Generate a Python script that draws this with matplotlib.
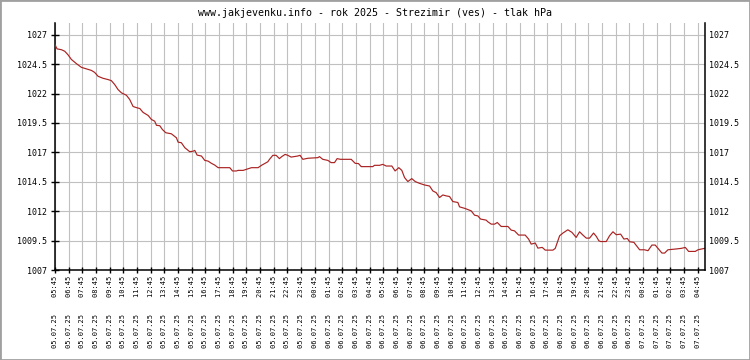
import matplotlib
matplotlib.use("Agg")
import matplotlib.pyplot as plt
import matplotlib.dates as mdates
from matplotlib.patches import Rectangle
from datetime import datetime, timedelta

title = "www.jakjevenku.info - rok 2025 - Strezimir (ves) - tlak hPa"
start_time = datetime(2025, 7, 5, 5, 45)
end_hours = 47.53

# hours since 05.07.25 05:45
hours = [0.00, 0.15, 0.47, 0.71, 0.95, 1.20, 1.56, 1.93, 2.29, 2.66, 2.90, 3.15, 3.51, 3.88,
         4.12, 4.37, 4.61, 4.86, 5.22, 5.46, 5.71, 6.00, 6.20, 6.44, 6.81, 7.05, 7.29, 7.42,
         7.66, 7.85, 8.10, 8.51, 8.88, 9.00, 9.24, 9.49, 9.85, 10.10, 10.22, 10.39, 10.71,
         10.95, 11.19, 11.44, 11.68, 11.93, 12.78, 12.98, 13.27, 13.39, 13.76, 14.00, 14.37,
         14.85, 15.10, 15.46, 15.56, 15.68, 15.93, 16.17, 16.41, 16.58, 16.83, 17.02, 17.27,
         17.75, 17.92, 18.12, 18.49, 19.22, 19.34, 19.58, 19.95, 20.19, 20.44, 20.63, 20.88,
         21.66, 21.95, 22.19, 22.39, 23.24, 23.36, 23.73, 23.97, 24.22, 24.63, 24.87, 25.14,
         25.36, 25.56, 25.80, 26.09, 26.34, 26.65, 27.02, 27.39, 27.63, 27.87, 28.12, 28.36,
         28.61, 28.85, 29.09, 29.46, 29.58, 29.99, 30.43, 30.68, 30.92, 31.12, 31.53, 31.65,
         31.90, 32.15, 32.34, 32.63, 33.12, 33.36, 33.60, 33.90, 34.38, 34.63, 34.82, 35.12,
         35.31, 35.63, 35.85, 36.41, 36.58, 36.90, 37.14, 37.50, 37.80, 38.11, 38.36, 38.60,
         38.85, 39.09, 39.38, 39.58, 39.77, 39.90, 40.31, 40.55, 40.80, 41.04, 41.36, 41.60,
         41.85, 42.02, 42.33, 42.75, 43.11, 43.36, 43.65, 43.89, 44.09, 44.38, 44.58, 44.82,
         45.36, 45.80, 46.09, 46.33, 46.82, 47.02, 47.26, 47.50]

pressure = [1026.15, 1025.80, 1025.73, 1025.60, 1025.30, 1024.90, 1024.55, 1024.23, 1024.10,
            1023.97, 1023.80, 1023.47, 1023.30, 1023.19, 1023.10, 1022.76, 1022.34, 1022.06,
            1021.86, 1021.50, 1020.90, 1020.79, 1020.73, 1020.40, 1020.14, 1019.80, 1019.65,
            1019.30, 1019.27, 1018.95, 1018.67, 1018.58, 1018.24, 1017.87, 1017.82, 1017.40,
            1017.06, 1017.10, 1017.17, 1016.77, 1016.69, 1016.32, 1016.26, 1016.07, 1015.92,
            1015.70, 1015.70, 1015.42, 1015.42, 1015.47, 1015.47, 1015.56, 1015.70, 1015.70,
            1015.90, 1016.13, 1016.20, 1016.40, 1016.75, 1016.75, 1016.47, 1016.64, 1016.83,
            1016.75, 1016.60, 1016.69, 1016.75, 1016.41, 1016.50, 1016.55, 1016.64, 1016.41,
            1016.32, 1016.13, 1016.13, 1016.47, 1016.41, 1016.41, 1016.07, 1016.05, 1015.79,
            1015.79, 1015.90, 1015.90, 1015.98, 1015.84, 1015.84, 1015.42, 1015.70, 1015.47,
            1014.86, 1014.52, 1014.77, 1014.52, 1014.37, 1014.23, 1014.14, 1013.72, 1013.58,
            1013.16, 1013.38, 1013.30, 1013.25, 1012.82, 1012.74, 1012.37, 1012.23, 1012.03,
            1011.66, 1011.60, 1011.33, 1011.24, 1011.10, 1010.90, 1010.90, 1011.04, 1010.70,
            1010.70, 1010.39, 1010.33, 1009.97, 1009.97, 1009.63, 1009.20, 1009.29, 1008.86,
            1008.92, 1008.69, 1008.69, 1008.84, 1009.91, 1010.14, 1010.42, 1010.20, 1009.77,
            1010.25, 1009.97, 1009.71, 1009.71, 1010.14, 1009.86, 1009.48, 1009.42, 1009.42,
            1009.91, 1010.25, 1010.00, 1010.05, 1009.63, 1009.68, 1009.40, 1009.35, 1008.72,
            1008.72, 1008.64, 1009.12, 1009.12, 1008.84, 1008.44, 1008.44, 1008.72, 1008.78,
            1008.84, 1008.92, 1008.58, 1008.58, 1008.72, 1008.78, 1008.84]

ytick_values = [1007, 1009.5, 1012, 1014.5, 1017, 1019.5, 1022, 1024.5, 1027]
ytick_labels = ["1007", "1009.5", "1012", "1014.5", "1017", "1019.5", "1022", "1024.5", "1027"]
y_limits = (1007, 1028)

mono = "DejaVu Sans Mono"
line_color = "#aa2222"
grid_color = "#c0c0c0"

times = [start_time + timedelta(hours=h) for h in hours]

fig = plt.figure(figsize=(7.5, 3.6), dpi=100)
fig.patch.set_facecolor("white")
ax = fig.add_axes([55 / 750, 90 / 360, 650 / 750, 247 / 360])

ax.plot(times, pressure, color=line_color, lw=0.85, zorder=3)

ax.set_xlim(start_time, start_time + timedelta(hours=end_hours))
ax.set_ylim(*y_limits)

ax.xaxis.set_major_locator(mdates.MinuteLocator(byminute=[45]))
ax.xaxis.set_major_formatter(mdates.DateFormatter("%d.%m.%y    %H:%M"))
ax.tick_params(axis="x", direction="inout", length=4, width=1, pad=2,
               labelsize=5.0, labelrotation=90, colors="black")

ax.set_yticks(ytick_values)
ax.set_yticklabels(ytick_labels, family=mono, fontsize=6)
ax.tick_params(axis="y", direction="inout", length=6, width=1, pad=3)

ax2 = ax.twinx()
ax2.set_ylim(*y_limits)
ax2.set_yticks(ytick_values)
ax2.set_yticklabels(ytick_labels, family=mono, fontsize=6)
ax2.tick_params(axis="y", length=0, pad=3)
for sp in ["top", "left", "bottom"]:
    ax2.spines[sp].set_visible(False)
ax2.spines["right"].set_linewidth(1.1)

ax.grid(True, color=grid_color, lw=0.8, zorder=0)
ax.set_axisbelow(True)
ax.spines["top"].set_visible(False)
ax.spines["right"].set_visible(False)
ax.spines["left"].set_linewidth(1.1)
ax.spines["bottom"].set_linewidth(1.1)

fig.canvas.draw()
for lab in ax.get_xticklabels():
    lab.set_fontfamily(mono)

fig.text(0.5, 1 - 12.5 / 360, title, ha="center", va="center",
         family=mono, fontsize=7.2, color="black")

fig.patches.append(Rectangle((0, 0), 1, 1, transform=fig.transFigure,
                             fill=False, edgecolor="#a0a0a0", lw=2))

fig.savefig("out.png", dpi=100, facecolor="white")
